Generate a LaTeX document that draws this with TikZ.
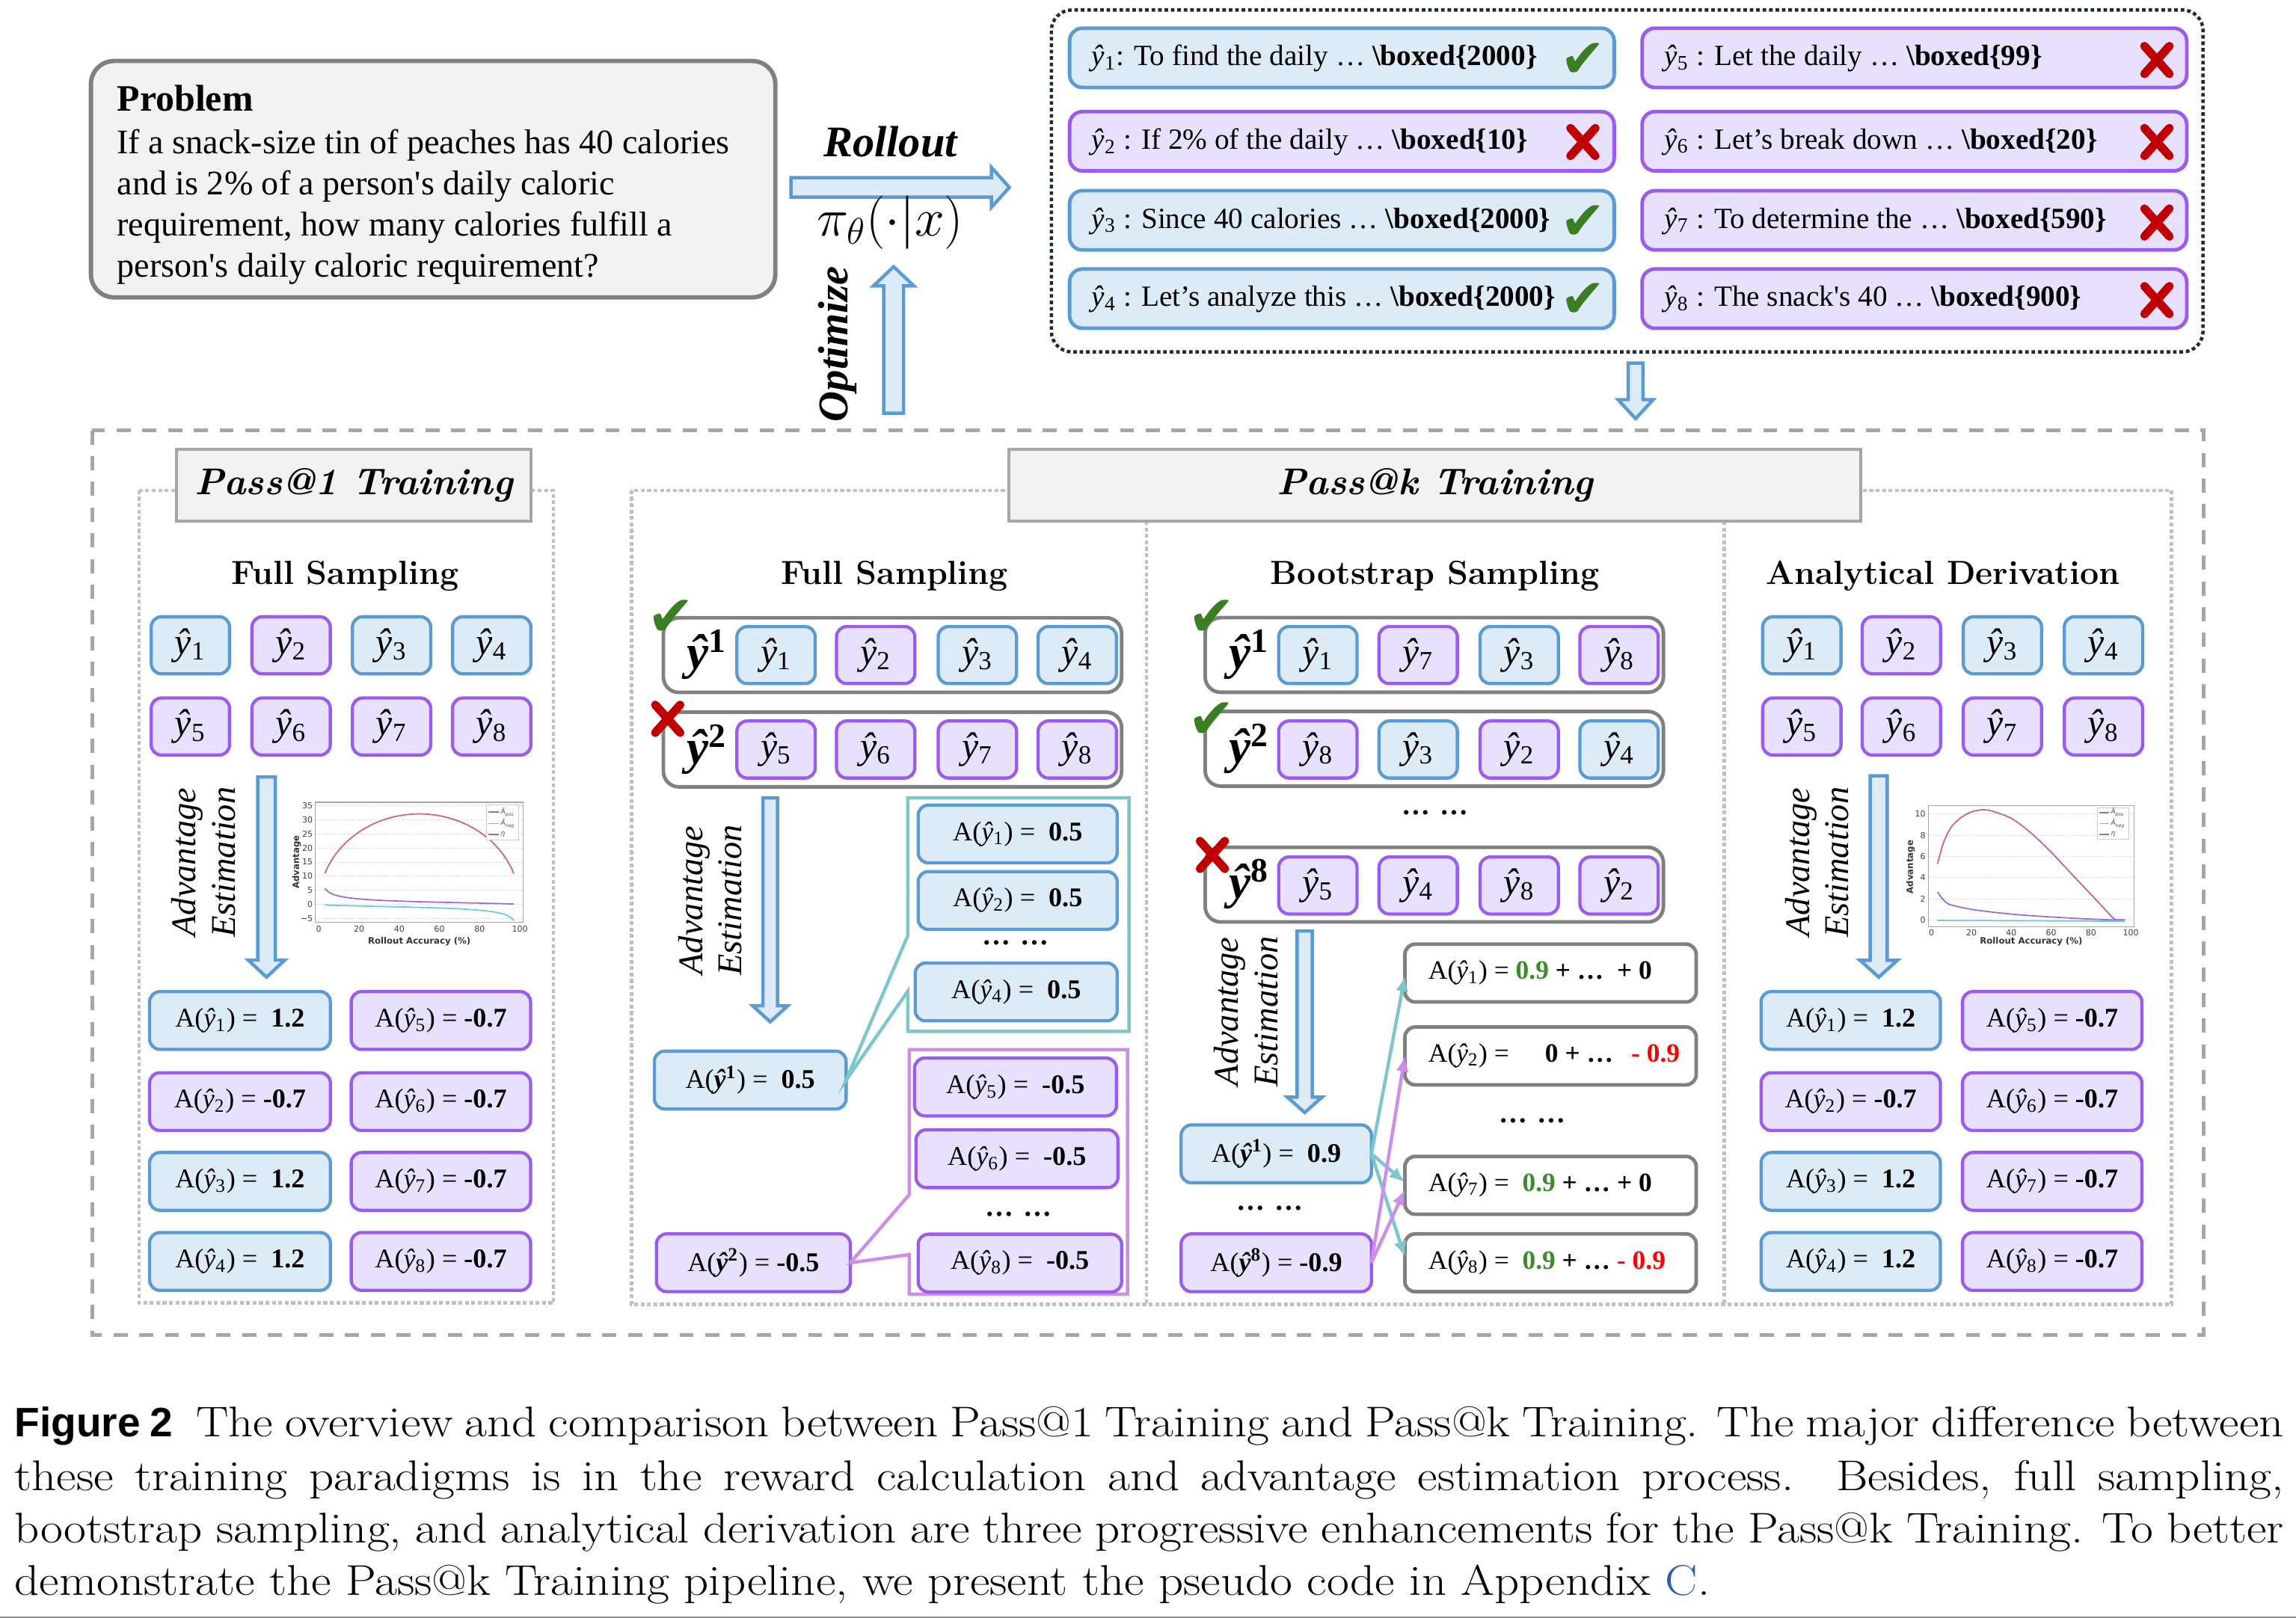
\documentclass[tikz,border=0pt]{standalone}
\usepackage{fontspec}
\usepackage{amsmath}
\usetikzlibrary{arrows.meta,calc}
\newfontfamily\tnr{Liberation Serif}
\newfontfamily\dejavu{DejaVu Sans}
\newfontfamily\helv{Liberation Sans}
\newfontfamily\capfont{Latin Modern Roman}[FakeStretch=1.13]
\definecolor{bluebd}{HTML}{5B9BD5}
\definecolor{bluefill}{HTML}{DDEBF7}
\definecolor{purbd}{HTML}{9A5CF0}
\definecolor{purfill}{HTML}{E7E0FE}
\definecolor{tealc}{HTML}{7DC6CC}
\definecolor{lpur}{HTML}{CC8EE8}
\definecolor{chkgreen}{HTML}{3A7D22}
\definecolor{xred}{HTML}{C00000}
\definecolor{navy}{HTML}{1E2B38}
\definecolor{gbox}{HTML}{F2F2F2}
\definecolor{gbd}{HTML}{A6A6A6}
\definecolor{grpgray}{HTML}{808080}
\definecolor{dotgray}{HTML}{BFBFBF}
\definecolor{tgreen}{HTML}{3D8B2A}
\definecolor{tred}{HTML}{FF0000}
\definecolor{capblue}{HTML}{2F5DB5}
\definecolor{cred}{HTML}{D0607A}
\definecolor{cpur}{HTML}{9966DD}
\definecolor{ccyan}{HTML}{66CCDD}
\newcommand\yh[1]{{\itshape ŷ}\textsubscript{#1}}
\newcommand\Yh[1]{{\bfseries\itshape ŷ}\textsuperscript{\bfseries #1}}
\newcommand\yb[5]{\node[ysm,#1] (#2) at (#3,#4) {\yh{#5}};}
\newcommand\ab[6]{\node[abox,#1,minimum width=#2] (#3) at (#4,#5) {#6};}
\newcommand\xmk[2]{\draw[xstroke] (#1,#2) +(-8.5,-9.5) -- +(8.5,9.5) +(-8.5,9.5) -- +(8.5,-9.5);}
\newcommand\dts{\textbf{…}\hspace{0.35em}\textbf{…}}
\newcommand\Ah[1]{{\itshape Â}\textsubscript{\itshape #1}}
\begin{document}
\begin{tikzpicture}[x=0.02cm, y=-0.02cm,
 every node/.style={inner sep=0pt, outer sep=0pt},
 bb/.style={draw=bluebd, fill=bluefill},
 pb/.style={draw=purbd, fill=purfill},
 ysm/.style={rounded corners=4pt, line width=1.25pt, minimum width=1.07cm, minimum height=0.78cm, font=\tnr\fontsize{14.5}{14.5}\selectfont},
 abox/.style={rounded corners=4pt, line width=1.25pt, minimum height=0.79cm, font=\tnr\fontsize{10.5}{12}\selectfont},
 resp/.style={rounded corners=5pt, line width=1.4pt, minimum width=7.44cm, minimum height=0.81cm},
 rtext/.style={anchor=west, font=\tnr\fontsize{11.4}{13}\selectfont},
 grprow/.style={draw=grpgray, line width=1.4pt, rounded corners=6pt, fill=white, minimum width=6.26cm, minimum height=1.02cm},
 glabel/.style={font=\tnr\fontsize{19}{19}\selectfont},
 chk/.style={text=chkgreen, font=\dejavu\fontsize{21}{21}\selectfont},
 chks/.style={text=chkgreen, font=\dejavu\fontsize{22}{22}\selectfont},
 xstroke/.style={draw=xred, line width=3.3pt, line cap=round},
 barrow/.style={draw=bluebd, fill=bluefill, line width=1.3pt, line join=miter},
 subttl/.style={anchor=base, font=\bfseries\fontsize{13}{15}\selectfont},
 ttlbox/.style={draw=gbd, fill=gbox, line width=1.2pt, font=\bfseries\itshape\fontsize{14.5}{16}\selectfont},
 adv/.style={rotate=90, align=center, font=\tnr\itshape\fontsize{13.5}{15.3}\selectfont},
 dotsn/.style={font=\tnr\fontsize{11}{11}\selectfont},
 wbox/.style={draw=grpgray, fill=white, line width=1.4pt, rounded corners=4pt, minimum width=3.98cm, minimum height=0.79cm},
 wtext/.style={anchor=west, font=\tnr\fontsize{10.3}{12}\selectfont},
 panel/.style={draw=dotgray, line width=1.3pt, dash pattern=on 1.5pt off 1pt},
 gridl/.style={draw=black!15, line width=0.25pt, dash pattern=on 0.8pt off 0.6pt},
 chframe/.style={draw=black!35, line width=0.35pt},
 tick/.style={font=\dejavu\fontsize{3.2}{3.6}\selectfont, text=black!75},
 tickb/.style={font=\dejavu\bfseries\fontsize{3.4}{3.8}\selectfont, text=black!80},
 leg/.style={font=\dejavu\fontsize{2.6}{3}\selectfont, text=black!70, anchor=west},
 redc/.style={draw=cred, line width=0.5pt},
 purc/.style={draw=cpur, line width=0.5pt},
 cyc/.style={draw=ccyan, line width=0.5pt},
 tarr/.style={draw=tealc, line width=1.3pt, -{Latex[length=6pt,width=5pt]}},
 parr/.style={draw=lpur, line width=1.3pt, -{Latex[length=6pt,width=5pt]}},
 capline/.style={anchor=base west, font=\capfont\fontsize{16.7}{20.3}\selectfont}
]
\useasboundingbox (0,0) rectangle (1568,1105.25);
\fill[white] (0,0) rectangle (1568,1105.25);

% ---------------- top: problem ----------------
\node[draw=grpgray, fill=gbox, line width=1.7pt, rounded corners=9pt, minimum width=9.35cm, minimum height=3.23cm] (prob) at (295.8,122.4) {};
\node[anchor=base west, font=\tnr\bfseries\fontsize{14.5}{16}\selectfont] (probt) at (80,76) {Problem};
\node[anchor=base west, font=\tnr\fontsize{13.4}{16}\selectfont] (pl1) at (80,105.2) {If a snack-size tin of peaches has 40 calories};
\node[anchor=base west, font=\tnr\fontsize{13.4}{16}\selectfont] (pl2) at (80,133.1) {and is 2\% of a person's daily caloric};
\node[anchor=base west, font=\tnr\fontsize{13.4}{16}\selectfont] (pl3) at (80,161) {requirement, how many calories fulfill a};
\node[anchor=base west, font=\tnr\fontsize{13.4}{16}\selectfont] (pl4) at (80,189.4) {person's daily caloric requirement?};

% rollout / optimize
\node[font=\tnr\bfseries\itshape\fontsize{17}{19}\selectfont] (rollout) at (608,97) {Rollout};
\draw[barrow] (540.2,121.4) -- (677,121.4) -- (677,114.3) -- (689.3,128) -- (677,141.7) -- (677,134.6) -- (540.2,134.6) -- cycle;
\node[font=\fontsize{20}{22}\selectfont] (policy) at (608,152) {$\pi_\theta(\cdot|x)$};
\node[rotate=90, font=\tnr\bfseries\itshape\fontsize{16.5}{18}\selectfont] (optimize) at (572,235) {Optimize};
\draw[barrow] (603.5,282.2) -- (617.1,282.2) -- (617.1,195.3) -- (624.1,195.3) -- (610.3,182.2) -- (596.5,195.3) -- (603.5,195.3) -- cycle;

% ---------------- top: responses ----------------
\draw[navy, line width=1.3pt, dash pattern=on 1.4pt off 1.1pt, rounded corners=8pt] (718,6.8) rectangle (1504.5,240.4);
\node[resp,bb] (r1) at (916.4,39.5) {};
\node[resp,pb] (r2) at (916.4,96.5) {};
\node[resp,bb] (r3) at (916.4,150.5) {};
\node[resp,bb] (r4) at (916.4,204) {};
\node[resp,pb] (r5) at (1307.4,39.5) {};
\node[resp,pb] (r6) at (1307.4,96.5) {};
\node[resp,pb] (r7) at (1307.4,150.5) {};
\node[resp,pb] (r8) at (1307.4,204) {};
\node[rtext] (r1t) at (745.5,40) {\yh{1}: To find the daily … {\bfseries\textbackslash boxed\{2000\}}};
\node[rtext] (r2t) at (745.5,97) {\yh{2} : If 2\% of the daily … {\bfseries\textbackslash boxed\{10\}}};
\node[rtext] (r3t) at (745.5,151) {\yh{3} : Since 40 calories … {\bfseries\textbackslash boxed\{2000\}}};
\node[rtext] (r4t) at (745.5,204.5) {\yh{4} : Let’s analyze this … {\bfseries\textbackslash boxed\{2000\}}};
\node[rtext] (r5t) at (1136.7,40) {\yh{5} : Let the daily … {\bfseries\textbackslash boxed\{99\}}};
\node[rtext] (r6t) at (1136.7,97) {\yh{6} : Let’s break down … {\bfseries\textbackslash boxed\{20\}}};
\node[rtext] (r7t) at (1136.7,151) {\yh{7} : To determine the … {\bfseries\textbackslash boxed\{590\}}};
\node[rtext] (r8t) at (1136.7,204.5) {\yh{8} : The snack's 40 … {\bfseries\textbackslash boxed\{900\}}};
\node[chk] (r1c) at (1081,41) {✔};
\xmk{1081}{97}
\node[chk] (r3c) at (1081,152) {✔};
\node[chk] (r4c) at (1081,205) {✔};
\xmk{1473}{41}
\xmk{1473}{97}
\xmk{1473}{152}
\xmk{1473}{205}
\draw[barrow] (1112,248) -- (1122,248) -- (1122,273) -- (1129,273) -- (1117,286) -- (1105,273) -- (1112,273) -- cycle;

% ---------------- main frame ----------------
\draw[gbd, line width=1.3pt, dash pattern=on 5.5pt off 4.5pt] (63,294) rectangle (1505,912);
\draw[panel] (95,335) rectangle (378,890);
\draw[panel] (431.3,335) rectangle (1483,891);
\draw[panel] (783,356) -- (783,891);
\draw[panel] (1177.5,356) -- (1177.5,891);
\node[ttlbox, minimum width=4.84cm, minimum height=0.98cm] (p1title) at (241.5,331.5) {Pass@1 Training};
\node[ttlbox, minimum width=11.64cm, minimum height=0.98cm] (pktitle) at (980,331.5) {Pass@k Training};

% ---------------- Pass@1 ----------------
\node[subttl] (fs1) at (235.7,399) {Full Sampling};
\yb{bb}{a1}{130}{440.8}{1}
\yb{pb}{a2}{198.8}{440.8}{2}
\yb{bb}{a3}{267.4}{440.8}{3}
\yb{bb}{a4}{335.8}{440.8}{4}
\yb{pb}{a5}{130}{496.3}{5}
\yb{pb}{a6}{198.8}{496.3}{6}
\yb{pb}{a7}{267.4}{496.3}{7}
\yb{pb}{a8}{335.8}{496.3}{8}
\node[adv] (adv1) at (139,589) {Advantage\\Estimation};
\draw[barrow] (176,530.7) -- (188,530.7) -- (188,655.8) -- (194.5,655.8) -- (182,667.5) -- (169.5,655.8) -- (176,655.8) -- cycle;
\ab{bb}{2.47cm}{pa1}{163.9}{697.1}{A(\yh{1}) = \ \textbf{1.2}}
\ab{pb}{2.47cm}{pa2}{163.9}{752.5}{A(\yh{2}) = \textbf{-0.7}}
\ab{bb}{2.47cm}{pa3}{163.9}{807}{A(\yh{3}) = \ \textbf{1.2}}
\ab{bb}{2.47cm}{pa4}{163.9}{861.7}{A(\yh{4}) = \ \textbf{1.2}}
\ab{pb}{2.45cm}{pa5}{301.1}{697.1}{A(\yh{5}) = \textbf{-0.7}}
\ab{pb}{2.45cm}{pa6}{301.1}{752.5}{A(\yh{6}) = \textbf{-0.7}}
\ab{pb}{2.45cm}{pa7}{301.1}{807}{A(\yh{7}) = \textbf{-0.7}}
\ab{pb}{2.45cm}{pa8}{301.1}{861.7}{A(\yh{8}) = \textbf{-0.7}}

% chart 1
\begin{scope}[shift={(217.7,617.9)}, xscale=1.373, yscale=-1.935]
 \foreach \v in {-5,0,5,10,15,20,25,30,35} \draw[gridl] (-1.7,\v) -- (101.7,\v);
 \draw[chframe] (-1.7,-6.2) rectangle (101.7,36.1);
 \foreach \v/\t [count=\i] in {-5/−5,0/0,5/5,10/10,15/15,20/20,25/25,30/30,35/35} \node[tick,anchor=east] (ca\i) at (-3,\v) {\t};
 \foreach \v [count=\i] in {0,20,40,60,80,100} \node[tick,anchor=north] (cb\i) at (\v,-7.4) {\v};
 \node[tickb, rotate=90] (cyl) at (-11,15) {Advantage};
 \node[tickb] (cxl) at (50,-13.2) {Rollout Accuracy (\%)};
 \draw[redc] plot[domain=3:97, samples=80, smooth] (\x,{64*sqrt(\x/100*(1-\x/100))});
 \draw[purc] plot[domain=3:97, samples=80, smooth] (\x,{sqrt((100-\x)/\x)});
 \draw[cyc] plot[domain=3:97, samples=80, smooth] (\x,{-sqrt(\x/(100-\x))});
 \draw[draw=black!20, line width=0.3pt, fill=white] (83.6,22.9) rectangle (99.3,35.1);
 \draw[purc] (84.5,32.6) -- (89.5,32.6); \node[leg] (cl1) at (90.5,32.6) {\Ah{pos}};
 \draw[cyc] (84.5,28.6) -- (89.5,28.6); \node[leg] (cl2) at (90.5,28.6) {\Ah{neg}};
 \draw[redc] (84.5,24.8) -- (89.5,24.8); \node[leg] (cl3) at (90.5,24.8) {\itshape η};
\end{scope}

% ---------------- Pass@k : full sampling ----------------
\node[subttl] (fs2) at (611,399) {Full Sampling};
\node[grprow] (g1) at (609.5,447.5) {};
\node[grprow] (g2) at (609.5,512) {};
\node[glabel] (g1l) at (482.6,447) {\Yh{1}};
\node[glabel] (g2l) at (482.6,512) {\Yh{2}};
\yb{bb}{f1}{530}{447.5}{1}
\yb{pb}{f2}{598}{447.5}{2}
\yb{bb}{f3}{667.5}{447.5}{3}
\yb{bb}{f4}{735.7}{447.5}{4}
\yb{pb}{f5}{530}{512}{5}
\yb{pb}{f6}{598}{512}{6}
\yb{pb}{f7}{667.5}{512}{7}
\yb{pb}{f8}{735.7}{512}{8}
\node[chks] (g1c) at (458,422) {✔};
\xmk{456}{491}
\node[adv] (adv2) at (485,615) {Advantage\\Estimation};
\draw[barrow] (521,545) -- (531,545) -- (531,687) -- (538,687) -- (526,698) -- (514,687) -- (521,687) -- cycle;
\ab{bb}{2.62cm}{ay1}{512.35}{737.8}{A(\Yh{1}) = \ \textbf{0.5}}
\ab{pb}{2.65cm}{ay2}{514.5}{862.6}{A(\Yh{2}) = \textbf{-0.5}}
\draw[tealc, line width=1.3pt, line join=miter] (620,545) -- (620,639) -- (ay1.east) -- (620,677) -- (620,704.5) -- (771,704.5) -- (771,545) -- cycle;
\draw[lpur, line width=1.3pt, line join=miter] (621,717) -- (621,816) -- (ay2.east) -- (621,857) -- (621,884) -- (770,884) -- (770,717) -- cycle;
\ab{bb}{2.72cm}{t1}{695}{569.7}{A(\yh{1}) = \ \textbf{0.5}}
\ab{bb}{2.72cm}{t2}{695}{615.1}{A(\yh{2}) = \ \textbf{0.5}}
\node[dotsn] (td) at (693.5,644) {\dts};
\ab{bb}{2.76cm}{t4}{694}{677.6}{A(\yh{4}) = \ \textbf{0.5}}
\ab{pb}{2.76cm}{u5}{693.5}{742.5}{A(\yh{5}) = \ \textbf{-0.5}}
\ab{pb}{2.76cm}{u6}{694.5}{791.5}{A(\yh{6}) = \ \textbf{-0.5}}
\node[dotsn] (ud) at (695.7,829.5) {\dts};
\ab{pb}{2.78cm}{u8}{696.5}{862.8}{A(\yh{8}) = \ \textbf{-0.5}}

% ---------------- Pass@k : bootstrap ----------------
\node[subttl] (bs) at (980,399) {Bootstrap Sampling};
\node[grprow] (h1) at (979.5,447.4) {};
\node[grprow] (h2) at (979.5,511.5) {};
\node[grprow] (h3) at (979.5,604.3) {};
\node[glabel] (h1l) at (853,447) {\Yh{1}};
\node[glabel] (h2l) at (853,511.5) {\Yh{2}};
\node[glabel] (h3l) at (853,604) {\Yh{8}};
\yb{bb}{k1}{900}{447.5}{1}
\yb{pb}{k2}{968.5}{447.5}{7}
\yb{bb}{k3}{1037.5}{447.5}{3}
\yb{pb}{k4}{1105.7}{447.5}{8}
\yb{pb}{k5}{900}{512}{8}
\yb{bb}{k6}{968.5}{512}{3}
\yb{pb}{k7}{1037.5}{512}{2}
\yb{bb}{k8}{1105.7}{512}{4}
\yb{pb}{k9}{900}{604.9}{5}
\yb{pb}{k10}{968.5}{604.9}{4}
\yb{pb}{k11}{1037.5}{604.9}{8}
\yb{pb}{k12}{1105.7}{604.9}{2}
\node[chks] (h1c) at (827.5,422) {✔};
\node[chks] (h2c) at (827.5,492) {✔};
\xmk{828}{584}
\node[dotsn] (hd) at (980,555) {\dts};
\node[adv] (adv3) at (851,691) {Advantage\\Estimation};
\draw[barrow] (885.8,636) -- (896.2,636) -- (896.2,749.5) -- (902.8,749.5) -- (891,760) -- (879.2,749.5) -- (885.8,749.5) -- cycle;
\ab{bb}{2.6cm}{ba1}{871.6}{788.2}{A(\Yh{1}) = \ \textbf{0.9}}
\node[dotsn] (bd) at (867,825.5) {\dts};
\ab{pb}{2.6cm}{ba8}{871.6}{862.6}{A(\Yh{8}) = \textbf{-0.9}}
\node[wbox] (w1) at (1058.9,664.7) {};
\node[wbox] (w2) at (1058.9,721.3) {};
\node[dotsn] (wd) at (1046.5,765.5) {\dts};
\node[wbox] (w3) at (1058.9,809.7) {};
\node[wbox] (w4) at (1058.9,862.6) {};
\node[wtext] (w1t) at (975.5,664.7) {A(\yh{1}) = \textcolor{tgreen}{\textbf{0.9}} \textbf{+ …\ \ + 0}};
\node[wtext] (w2t) at (975.5,721.3) {A(\yh{2}) =\hspace{14pt}\textbf{0 + …}\hspace{7pt}\textcolor{tred}{\textbf{- 0.9}}};
\node[wtext] (w3t) at (975.5,809.7) {A(\yh{7}) = \ \textcolor{tgreen}{\textbf{0.9}} \textbf{+ … + 0}};
\node[wtext] (w4t) at (975.5,862.6) {A(\yh{8}) = \ \textcolor{tgreen}{\textbf{0.9}} \textbf{+ …}\ \textcolor{tred}{\textbf{- 0.9}}};
\draw[tarr] (ba1.east) -- ($(w1.west)+(0,2)$);
\draw[tarr] (ba1.east) -- ($(w3.west)+(0,-2)$);
\draw[tarr] (ba1.east) -- ($(w4.west)+(0,-4)$);
\draw[parr] (ba8.east) -- (w2.west);
\draw[parr] (ba8.east) -- ($(w3.west)+(0,3)$);

% ---------------- Pass@k : analytical ----------------
\node[subttl] (ad) at (1326.8,399) {Analytical Derivation};
\yb{bb}{d1}{1230.5}{440.8}{1}
\yb{pb}{d2}{1298.5}{440.8}{2}
\yb{bb}{d3}{1367.5}{440.8}{3}
\yb{bb}{d4}{1436.5}{440.8}{4}
\yb{pb}{d5}{1230.5}{496.3}{5}
\yb{pb}{d6}{1298.5}{496.3}{6}
\yb{pb}{d7}{1367.5}{496.3}{7}
\yb{pb}{d8}{1436.5}{496.3}{8}
\node[adv] (adv4) at (1241,589) {Advantage\\Estimation};
\draw[barrow] (1277.2,530) -- (1288.8,530) -- (1288.8,656) -- (1295.7,656) -- (1283,667.5) -- (1270.3,656) -- (1277.2,656) -- cycle;
\ab{bb}{2.45cm}{da1}{1263.9}{697.1}{A(\yh{1}) = \ \textbf{1.2}}
\ab{pb}{2.45cm}{da2}{1263.9}{752.5}{A(\yh{2}) = \textbf{-0.7}}
\ab{bb}{2.45cm}{da3}{1263.9}{807}{A(\yh{3}) = \ \textbf{1.2}}
\ab{bb}{2.45cm}{da4}{1263.9}{861.7}{A(\yh{4}) = \ \textbf{1.2}}
\ab{pb}{2.45cm}{da5}{1401.5}{697.1}{A(\yh{5}) = \textbf{-0.7}}
\ab{pb}{2.45cm}{da6}{1401.5}{752.5}{A(\yh{6}) = \textbf{-0.7}}
\ab{pb}{2.45cm}{da7}{1401.5}{807}{A(\yh{7}) = \textbf{-0.7}}
\ab{pb}{2.45cm}{da8}{1401.5}{861.7}{A(\yh{8}) = \textbf{-0.7}}

% chart 2
\begin{scope}[shift={(1319.1,628.4)}, xscale=1.361, yscale=-7.23]
 \foreach \v in {0,2,4,6,8,10} \draw[gridl] (-1.5,\v) -- (101.6,\v);
 \draw[chframe] (-1.5,-0.64) rectangle (101.6,10.8);
 \foreach \v [count=\i] in {0,2,4,6,8,10} \node[tick,anchor=east] (ea\i) at (-3,\v) {\v};
 \foreach \v [count=\i] in {0,20,40,60,80,100} \node[tick,anchor=north] (eb\i) at (\v,-0.9) {\v};
 \node[tickb, rotate=90] (eyl) at (-10.5,5) {Advantage};
 \node[tickb] (exl) at (50,-2.05) {Rollout Accuracy (\%)};
 \draw[redc] plot[smooth] coordinates {(3,5.3) (6,7.3) (10,8.8) (15,9.7) (20,10.2) (25,10.4) (30,10.3) (40,9.6) (50,8.2) (60,6.4) (70,4.4) (80,2.4) (87,1.0) (91,0.2) (93,0) (97,0)};
 \draw[purc] plot[smooth] coordinates {(3,2.65) (5,2.1) (7,1.7) (10,1.4) (20,1.0) (30,0.75) (40,0.55) (50,0.4) (60,0.28) (70,0.17) (80,0.08) (90,0.01) (97,0)};
 \draw[cyc] (3,-0.05) -- (97,-0.12);
 \draw[draw=black!20, line width=0.3pt, fill=white] (83.2,7.6) rectangle (98.9,10.57);
 \draw[purc] (84.2,10.15) -- (89,10.15); \node[leg] (el1) at (90,10.15) {\Ah{pos}};
 \draw[cyc] (84.2,9.1) -- (89,9.1); \node[leg] (el2) at (90,9.1) {\Ah{neg}};
 \draw[redc] (84.2,8.1) -- (89,8.1); \node[leg] (el3) at (90,8.1) {\itshape η};
\end{scope}

% ---------------- caption ----------------
\node[capline] (cap1) at (10,981.4) {\makebox[31cm][s]{{\helv\bfseries\fontsize{16}{20}\selectfont Figure 2}\ \ The overview and comparison between Pass@1 Training and Pass@k Training. The major difference between}};
\node[capline] (cap2) at (10,1018) {\makebox[31cm][s]{these training paradigms is in the reward calculation and advantage estimation process.\ \ Besides, full sampling,}};
\node[capline] (cap3) at (10,1053.8) {\makebox[31cm][s]{bootstrap sampling, and analytical derivation are three progressive enhancements for the Pass@k Training. To better}};
\node[capline] (cap4) at (10,1089.5) {demonstrate the Pass@k Training pipeline, we present the pseudo code in Appendix \textcolor{capblue}{C}.};
\draw[black!45, line width=0.8pt] (0,1104.7) -- (1568,1104.7);
\end{tikzpicture}
\end{document}
